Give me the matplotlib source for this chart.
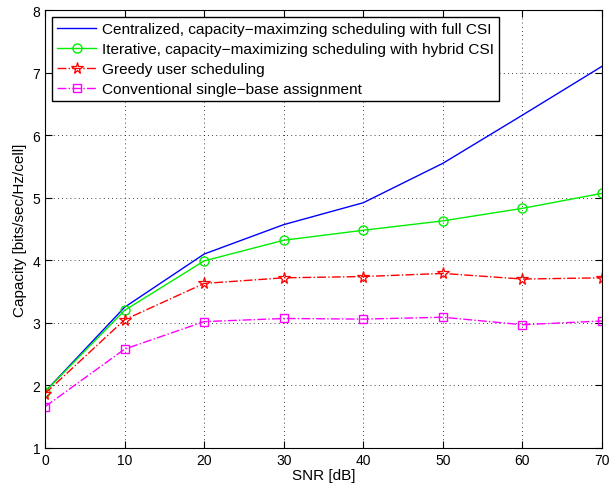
import numpy as np
import matplotlib.pyplot as plt

plt.rcParams['font.family'] = ['Liberation Sans', 'DejaVu Sans']

snr = [0, 10, 20, 30, 40, 50, 60, 70]
cap_full = [1.90, 3.25, 4.10, 4.57, 4.92, 5.55, 6.32, 7.10]
cap_hybrid = [1.90, 3.20, 3.99, 4.32, 4.48, 4.63, 4.83, 5.07]
cap_greedy = [1.87, 3.05, 3.63, 3.72, 3.74, 3.79, 3.70, 3.72]
cap_single = [1.66, 2.58, 3.02, 3.07, 3.06, 3.09, 2.97, 3.03]

labels = ['Centralized, capacity\u2212maximzing scheduling with full CSI',
          'Iterative, capacity\u2212maximizing scheduling with hybrid CSI',
          'Greedy user scheduling',
          'Conventional single\u2212base assignment']

fig = plt.figure(figsize=(6.11, 4.89), dpi=100)
ax = fig.add_axes([0.0737, 0.0818, 0.9116, 0.8957])

ax.plot(snr, cap_full, '-', color='blue', lw=1, label=labels[0])
ax.plot(snr, cap_hybrid, '-', color='#00ee00', lw=1, marker='o', ms=6.5,
        mfc='none', mec='#00ee00', label=labels[1])
ax.plot(snr, cap_greedy, '-.', color='red', lw=1, marker='*', ms=8.5,
        mfc='none', mec='red', mew=0.9, label=labels[2])
ax.plot(snr, cap_single, '-.', color='magenta', lw=1, marker='s', ms=5.5,
        mfc='none', mec='magenta', label=labels[3])

ax.set_xlim(0, 70)
ax.set_ylim(1, 8)
ax.set_xticks(np.arange(0, 71, 10))
ax.set_yticks(np.arange(1, 9, 1))
ax.grid(True, linestyle=(0, (1, 4)), color='black', lw=0.6)
ax.tick_params(direction='in', top=True, right=True, labelsize=10, length=5)
ax.set_xlabel('SNR [dB]', fontsize=11, labelpad=1)
ax.set_ylabel('Capacity [bits/sec/Hz/cell]', fontsize=11, labelpad=4)

leg = ax.legend(loc='upper left', fontsize=11.1, fancybox=False, framealpha=1,
                edgecolor='black', borderaxespad=0.45, handlelength=2.5,
                labelspacing=0.38, borderpad=0.35, handletextpad=0.4)
leg.get_frame().set_linewidth(1)

fig.savefig('out.png', dpi=100)
